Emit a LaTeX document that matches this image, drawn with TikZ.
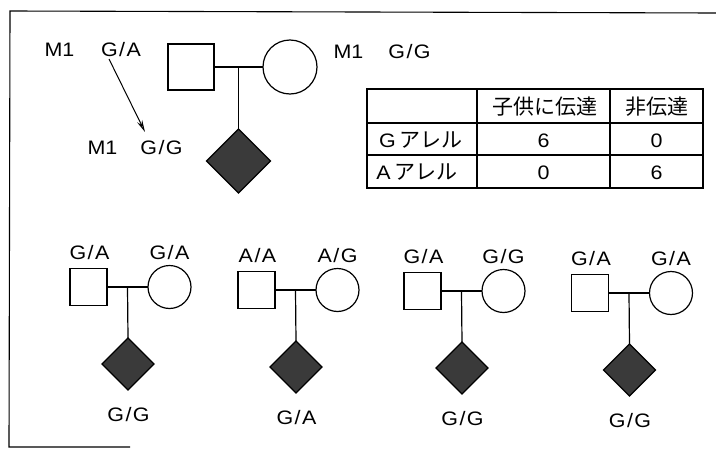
\documentclass[tikz,border=0pt]{standalone}
\usepackage{fontspec}
\setmainfont{Liberation Sans}
\newfontfamily\latf[FakeStretch=1.1]{Liberation Sans}
\newfontfamily\cjkf{Noto Sans CJK JP}
\usetikzlibrary{arrows.meta,shapes.geometric,calc}
\definecolor{dfill}{RGB}{58,58,58}
\newcommand{\gtp}[2]{#1\kern1.5pt/\kern1.5pt#2}
\begin{document}
\begin{tikzpicture}[x=1pt,y=-1pt,
  every node/.style={inner sep=0pt,outer sep=0pt},
  lab/.style={font=\latf\fontsize{19.5}{21}\selectfont,text height=14pt,text depth=0pt},
  ctxt/.style={font=\cjkf\fontsize{21}{23}\selectfont},
  ped/.style={line width=1.2pt},
  malebox/.style={draw,line width=1.2pt,rectangle,minimum size=#1},
  femcirc/.style={draw,line width=1.2pt,circle,minimum size=#1},
  affdia/.style={draw,line width=1.2pt,diamond,fill=dfill,minimum width=#1,minimum height=#1},
  frameline/.style={line width=1.1pt},
  tabline/.style={line width=1.2pt}]
\useasboundingbox (0,0) rectangle (716,450);

% frame
\coordinate (fa) at (716,13);
\coordinate (fb) at (10,11);
\coordinate (fc) at (9,447);
\coordinate (fd) at (130,447);
\draw[frameline] (fa) -- (fb) -- (fc) -- (fd);

% top family
\node[malebox=46pt] (tsq) at (191,67) {};
\node[femcirc=54pt] (tci) at (290,67) {};
\node[affdia=64pt] (tdi) at (238.5,161) {};
\draw[ped] (tsq.east) -- (tci.west);
\coordinate (tm) at ($(tsq.east)!0.5!(tci.west)$);
\draw[ped] (tm) -- (tdi.north);

\node[lab] (tm1a) at (59.5,49) {M1};
\node[lab] (tga) at (121,49) {\gtp{G}{A}};
\node[lab] (tm1b) at (348.5,51.5) {M1};
\node[lab] (tgg) at (409.5,51.5) {\gtp{G}{G}};
\node[lab] (tm1c) at (102.5,147) {M1};
\node[lab] (tgg2) at (161.5,147) {\gtp{G}{G}};
\coordinate (arS) at (109,59);
\coordinate (arE) at (145,132);
\draw[line width=1pt,-{Stealth[length=12pt,width=5.5pt,open]}] (arS) -- (arE);

% table
\coordinate (tl) at (367,89);
\coordinate (br) at (703,188);
\draw[tabline] (tl) rectangle (br);
\coordinate (r1l) at (367,123); \coordinate (r1r) at (703,123);
\coordinate (r2l) at (367,155); \coordinate (r2r) at (703,155);
\coordinate (c1t) at (477,89); \coordinate (c1b) at (477,188);
\coordinate (c2t) at (610,89); \coordinate (c2b) at (610,188);
\draw[tabline] (r1l) -- (r1r);
\draw[tabline] (r2l) -- (r2r);
\draw[tabline] (c1t) -- (c1b);
\draw[tabline] (c2t) -- (c2b);
\node[ctxt] (h1) at (545,107) {子供に伝達};
\node[ctxt] (h2) at (656.5,107) {非伝達};
\node[ctxt] (rg) at (421,140) {{\latf\fontsize{19.5}{21}\selectfont G}\kern4pt アレル};
\node[ctxt] (ra) at (417,172) {{\latf\fontsize{19.5}{21}\selectfont A}\kern4pt アレル};
\node[lab] (v11) at (543.5,140) {6};
\node[lab] (v12) at (656.5,140) {0};
\node[lab] (v21) at (543.5,172) {0};
\node[lab] (v22) at (656.5,172) {6};

% bottom families
\foreach \i/\x/\y/\fa/\mo/\ch in {1/88.5/287/{G}{A}/{G}{A}/{G}{G},
                                  2/256.5/290/{A}{A}/{A}{G}/{G}{A},
                                  3/422.5/291/{G}{A}/{G}{G}/{G}{G},
                                  4/590/293/{G}{A}/{G}{A}/{G}{G}}{
  \node[malebox=37pt] (sq\i) at (\x,\y) {};
  \node[femcirc=43pt] (ci\i) at (\x+81,\y) {};
  \node[affdia=52pt] (di\i) at (\x+39.5,\y+77) {};
  \draw[ped] (sq\i.east) -- (ci\i.west);
  \coordinate (m\i) at ($(sq\i.east)!0.5!(ci\i.west)$);
  \draw[ped] (m\i) -- (di\i.north);
  \node[lab] (lf\i) at (\x+1,\y-35) {\expandafter\gtp\fa};
  \node[lab] (lm\i) at (\x+81,\y-35) {\expandafter\gtp\mo};
  \node[lab] (lc\i) at (\x+40,\y+127) {\expandafter\gtp\ch};
}
\end{tikzpicture}
\end{document}
